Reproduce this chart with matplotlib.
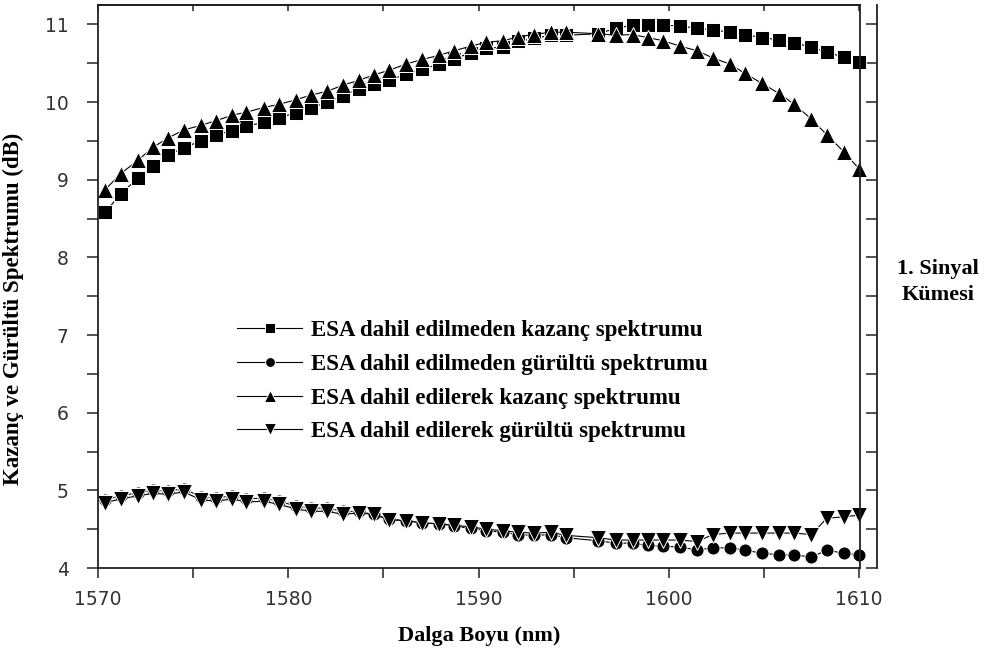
import matplotlib
matplotlib.use("Agg")
import matplotlib.pyplot as plt
from matplotlib.ticker import MultipleLocator

# ---- data ----
wavelength = [1570.37, 1571.2, 1572.1, 1572.9, 1573.7, 1574.5, 1575.4, 1576.2, 1577.05, 1577.8,
              1578.7, 1579.5, 1580.4, 1581.2, 1582.05, 1582.9, 1583.7, 1584.5, 1585.3, 1586.2,
              1587.05, 1587.9, 1588.7, 1589.6, 1590.4, 1591.3, 1592.1, 1592.9, 1593.8, 1594.6,
              1596.3, 1597.2, 1598.1, 1598.9, 1599.7, 1600.6, 1601.5, 1602.3, 1603.2, 1604.0,
              1604.9, 1605.8, 1606.6, 1607.5, 1608.3, 1609.2, 1610.0]

gain_no_esa = [8.58, 8.82, 9.02, 9.18, 9.32, 9.41, 9.50, 9.58, 9.63, 9.69,
               9.74, 9.80, 9.86, 9.92, 10.00, 10.08, 10.17, 10.23, 10.28, 10.36,
               10.42, 10.49, 10.56, 10.63, 10.69, 10.71, 10.78, 10.82, 10.86, 10.86,
               10.88, 10.95, 10.99, 10.99, 10.99, 10.98, 10.95, 10.93, 10.90, 10.87,
               10.83, 10.80, 10.76, 10.71, 10.64, 10.58, 10.51]

noise_no_esa = [4.88, 4.93, 4.97, 5.00, 4.99, 5.02, 4.92, 4.90, 4.93, 4.89,
                4.90, 4.86, 4.80, 4.77, 4.77, 4.73, 4.73, 4.69, 4.63, 4.61,
                4.58, 4.57, 4.54, 4.51, 4.48, 4.46, 4.43, 4.42, 4.43, 4.39,
                4.35, 4.32, 4.32, 4.29, 4.28, 4.27, 4.23, 4.26, 4.26, 4.23,
                4.19, 4.17, 4.17, 4.14, 4.23, 4.19, 4.17]

gain_esa = [8.87, 9.08, 9.25, 9.42, 9.54, 9.64, 9.70, 9.76, 9.83, 9.87,
            9.93, 9.97, 10.03, 10.09, 10.14, 10.22, 10.28, 10.35, 10.41, 10.49,
            10.55, 10.60, 10.66, 10.72, 10.77, 10.79, 10.84, 10.87, 10.90, 10.90,
            10.88, 10.86, 10.87, 10.83, 10.79, 10.72, 10.66, 10.57, 10.49, 10.37,
            10.24, 10.11, 9.97, 9.78, 9.58, 9.36, 9.14]

noise_esa = [4.84, 4.89, 4.93, 4.96, 4.95, 4.98, 4.88, 4.86, 4.89, 4.85,
             4.86, 4.82, 4.76, 4.73, 4.73, 4.69, 4.71, 4.69, 4.62, 4.61,
             4.58, 4.57, 4.55, 4.53, 4.50, 4.48, 4.46, 4.45, 4.46, 4.42,
             4.39, 4.36, 4.36, 4.36, 4.36, 4.36, 4.34, 4.43, 4.45, 4.45,
             4.45, 4.45, 4.45, 4.43, 4.64, 4.66, 4.68]

labels = ["ESA dahil edilmeden kazanç spektrumu",
          "ESA dahil edilmeden gürültü spektrumu",
          "ESA dahil edilerek kazanç spektrumu",
          "ESA dahil edilerek gürültü spektrumu"]

x_ticks = [1570, 1580, 1590, 1600, 1610]
y_ticks = [4, 5, 6, 7, 8, 9, 10, 11]

# ---- figure ----
W, H = 989, 654
fig = plt.figure(figsize=(W / 100, H / 100), dpi=100)
ax = fig.add_axes([98 / W, 1 - 568 / H, (860 - 98) / W, (568 - 5) / H])

serif_bold = dict(family="Liberation Serif", weight="bold")

series = [
    (gain_no_esa, "s", 9.6, labels[0]),
    (noise_no_esa, "o", 9.4, labels[1]),
    (gain_esa, "^", 12.2, labels[2]),
    (noise_esa, "v", 11.6, labels[3]),
]
for vals, mk, ms, lab in series:
    ax.plot(wavelength, vals, color="black", lw=0.8, marker=mk, markersize=ms,
            markerfacecolor="black", markeredgecolor="white", markeredgewidth=0.7,
            label=lab, clip_on=False)

ax.set_xlim(1570, 1610.05)
ax.set_ylim(4, 11.25)
ax.set_xticks(x_ticks)
ax.set_yticks(y_ticks)
ax.xaxis.set_minor_locator(MultipleLocator(5))
ax.yaxis.set_minor_locator(MultipleLocator(0.5))

for sp in ax.spines.values():
    sp.set_linewidth(1.3)
    sp.set_color("#222222")

ax.tick_params(axis="x", which="both", direction="out", length=7, width=1.1,
               top=False, bottom=True, colors="#222222", labelsize=13.5, pad=9)
ax.tick_params(axis="y", which="both", direction="out", length=8, width=1.1,
               right=False, left=True, colors="#222222", labelsize=13.5, pad=13)
for lbl in ax.get_xticklabels() + ax.get_yticklabels():
    lbl.set_family("DejaVu Sans")
    lbl.set_color("#333333")

# top inward ticks
top = ax.secondary_xaxis("top")
top.set_xticks(x_ticks)
top.xaxis.set_minor_locator(MultipleLocator(5))
top.tick_params(axis="x", which="both", direction="in", length=4, width=1.1,
                labeltop=False, colors="#222222")
top.spines["top"].set_linewidth(1.3)

# offset right line with inward ticks
right = ax.secondary_yaxis((877 - 98) / (860 - 98))
right.set_yticks(y_ticks)
right.yaxis.set_minor_locator(MultipleLocator(0.5))
right.tick_params(axis="y", which="both", direction="in", length=8, width=1.1,
                  labelright=False, colors="#222222")
right.spines["right"].set_linewidth(1.3)
right.spines["right"].set_color("#222222")

ax.set_xlabel("Dalga Boyu (nm)", fontsize=16, labelpad=12, **serif_bold)
ax.set_ylabel("Kazanç ve Gürültü Spektrumu (dB)", fontsize=16.5, **serif_bold)
ax.yaxis.set_label_coords(-0.097, 0.46)

leg = ax.legend(loc="upper left", bbox_to_anchor=(226 / W, 1 - 309 / H),
                bbox_transform=fig.transFigure, frameon=False,
                prop=dict(family="Liberation Serif", weight="bold", size=16.5),
                handlelength=2.8, handletextpad=0.4, labelspacing=0.55,
                markerscale=0.75, borderpad=0)

fig.text(938 / W, 1 - 282 / H, "1. Sinyal\nKümesi", ha="center", va="center",
         fontsize=16, linespacing=1.4, **serif_bold)

fig.savefig("out.png", dpi=100)
